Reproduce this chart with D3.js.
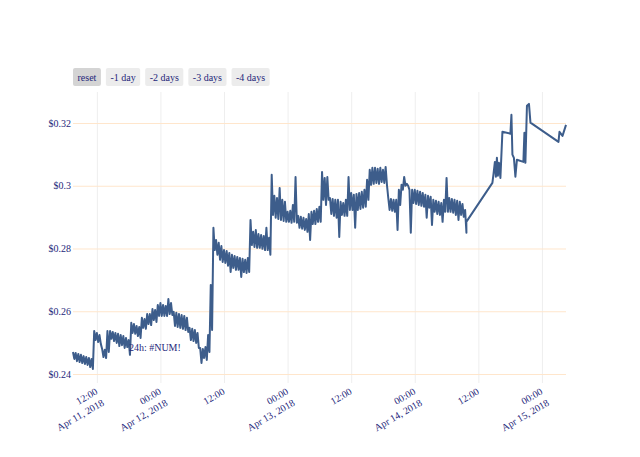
<!DOCTYPE html>
<html><head><meta charset="utf-8">
<script src="https://cdn.jsdelivr.net/npm/d3@7"></script>
<style>
body{margin:0;background:#fff}
svg{display:block}
text{font-family:"Liberation Serif","Times New Roman",serif}
</style>
</head><body>
<svg id="c" width="640" height="457"></svg>
<script>
// ---- data (hours counted from 2018-04-11 00:00 UTC) ----
// Dense, fast-oscillating part: for every half-hour slot the price swings
// between a high (read first) and a low (read a quarter hour later).
const denseStartHour = 7.5;
const denseStepHours = 0.5;
const bandHigh = [
.2470,.2467,.2464,.2461,.2457,.2454,.2451,.2448,.2537,.2531,
.2524,.2480,.2477,.2537,.2537,.2534,.2531,.2528,.2524,.2521,
.2515,.2508,.2563,.2559,.2553,.2550,.2579,.2575,.2591,.2591,
.2607,.2604,.2620,.2626,.2620,.2617,.2639,.2626,.2598,.2595,
.2591,.2588,.2585,.2579,.2547,.2544,.2540,.2531,.2483,.2480,
.2486,.2524,.2684,.2866,.2827,.2818,.2808,.2795,.2792,.2786,
.2780,.2776,.2773,.2770,.2767,.2764,.2770,.2891,.2853,.2859,
.2846,.2843,.2840,.2866,.2834,.3035,.2968,.2961,.2993,.2955,
.2949,.2917,.2920,.2939,.3028,.2904,.2901,.2898,.2894,.2910,
.2917,.2920,.2926,.2933,.3044,.3025,.3028,.2961,.2958,.2955,
.2955,.2949,.2945,.2955,.3028,.2977,.2971,.2974,.2977,.2981,
.2987,.3019,.3051,.3057,.3057,.3054,.3057,.3051,.3060,.2961,
.2958,.2955,.2955,.2987,.3003,.3028,.3006,.2987,.2987,.2987,
.2984,.2981,.2977,.2971,.2968,.2965,.2955,.2952,.2949,.2945,
.2955,.3025,.2961,.2958,.2955,.2952,.2949,.2942,.2923
];
const bandLow = [
.2448,.2441,.2438,.2435,.2432,.2429,.2422,.2416,.2508,.2502,
.2496,.2454,.2451,.2470,.2512,.2505,.2499,.2489,.2492,.2483,
.2486,.2461,.2531,.2528,.2521,.2515,.2547,.2544,.2559,.2556,
.2572,.2566,.2585,.2585,.2585,.2585,.2591,.2588,.2553,.2550,
.2547,.2544,.2540,.2534,.2508,.2505,.2499,.2483,.2435,.2451,
.2445,.2470,.2540,.2795,.2780,.2764,.2757,.2754,.2745,.2725,
.2738,.2732,.2732,.2709,.2725,.2722,.2725,.2811,.2805,.2802,
.2802,.2799,.2795,.2795,.2780,.2907,.2898,.2894,.2891,.2888,
.2885,.2885,.2882,.2885,.2882,.2866,.2863,.2859,.2853,.2827,
.2878,.2878,.2885,.2885,.2955,.2939,.2955,.2910,.2904,.2898,
.2837,.2907,.2904,.2904,.2923,.2923,.2866,.2923,.2926,.2930,
.2933,.2955,.3003,.3006,.3009,.3006,.3012,.3009,.3003,.2923,
.2920,.2917,.2859,.2939,.2987,.3000,.3000,.2850,.2945,.2942,
.2939,.2936,.2933,.2898,.2930,.2875,.2917,.2910,.2907,.2885,
.2917,.2917,.2917,.2914,.2907,.2891,.2907,.2901,.2850
];
// Sparse part after the data gap
const sparseHours = [81.73,86.65,86.84,87.12,87.31,87.50,87.69,87.88,88.16,88.54,90.05,90.24,90.43,90.71,90.99,91.28,92.50,92.69,92.88,93.17,93.55,93.83,99.12,99.31,99.88,100.54];
const sparsePrices = [.2885,.3009,.3035,.3076,.3029,.3089,.3032,.3073,.3025,.3172,.3166,.3226,.3099,.3089,.3029,.3083,.3076,.3169,.3073,.3255,.3261,.3201,.3140,.3172,.3159,.3194];

const xTickHours = [12,24,36,48,60,72,84,96];
const xTickTimes = ["12:00","00:00","12:00","00:00","12:00","00:00","12:00","00:00"];
const xTickDates = ["Apr 11, 2018","Apr 12, 2018","","Apr 13, 2018","","Apr 14, 2018","","Apr 15, 2018"];
const yTickValues = [0.24,0.26,0.28,0.30,0.32];
const yTickLabels = ["$0.24","$0.26","$0.28","$0.3","$0.32"];
const buttonLabels = ["reset","-1 day","-2 days","-3 days","-4 days"];
const annotationText = "24h: #NUM!";
const annotationHour = 18.05, annotationPrice = 0.2486;
const yDomain = [0.23713, 0.32988];

// ---- build ----
const base = Date.UTC(2018,3,11,0,0);
const toDate = h => new Date(base + h*3600000);
const series = [];
bandHigh.forEach((hi,i)=>{
  const h = denseStartHour + i*denseStepHours;
  series.push({t:toDate(h), v:hi});
  series.push({t:toDate(h + denseStepHours/2), v:bandLow[i]});
});
sparseHours.forEach((h,i)=>series.push({t:toDate(h), v:sparsePrices[i]}));

const L=73, R=566, T=92, B=383;
const x = d3.scaleUtc().domain([toDate(denseStartHour), d3.max(series,d=>d.t)]).range([L,R]);
const y = d3.scaleLinear().domain(yDomain).range([B,T]);

const svg = d3.select("#c");
const navy = "#25277a";

// vertical grid
const gx = svg.append("g").attr("transform",`translate(0,${B})`)
  .call(d3.axisBottom(x).tickValues(xTickHours.map(toDate)).tickSize(-(B-T)).tickFormat(""));
gx.select(".domain").remove();
gx.selectAll(".tick line").attr("stroke","#eeeeee").attr("stroke-width",1);

// horizontal grid + labels
const gy = svg.append("g").attr("transform",`translate(${L},0)`)
  .call(d3.axisLeft(y).tickValues(yTickValues).tickSize(-(R-L)).tickPadding(2)
    .tickFormat((d,i)=>yTickLabels[i]));
gy.select(".domain").remove();
gy.selectAll(".tick line").attr("stroke","#ffe6cc").attr("stroke-width",1);
gy.selectAll(".tick text").attr("fill",navy).attr("font-size",10)
  .style("font-family",'"Liberation Serif","Times New Roman",serif');

// x labels (rotated, two lines)
const xl = svg.append("g");
xTickHours.forEach((h,i)=>{
  const px = x(toDate(h));
  const g = xl.append("g").attr("transform",`translate(${px},${B+8}) rotate(-30)`);
  g.append("text").attr("text-anchor","end").attr("font-size",10).attr("fill",navy)
    .attr("x",0).attr("y",3).text(xTickTimes[i]);
  if (xTickDates[i]) g.append("text").attr("text-anchor","end").attr("font-size",10).attr("fill",navy)
    .attr("x",0).attr("y",16).text(xTickDates[i]);
});

// line
const line = d3.line().x(d=>x(d.t)).y(d=>y(d.v));
svg.append("path").datum(series).attr("d",line).attr("fill","none")
  .attr("stroke","#3d5d8b").attr("stroke-width",2).attr("stroke-linejoin","round");

// annotation
svg.append("text").attr("x",x(toDate(annotationHour))).attr("y",y(annotationPrice)+3.5)
  .attr("font-size",10).attr("fill",navy).text(annotationText);

// buttons
let bx = 73;
const bg = svg.append("g");
buttonLabels.forEach((lab,i)=>{
  const g = bg.append("g");
  const r = g.append("rect").attr("y",68).attr("height",18).attr("rx",2)
    .attr("fill", i===0 ? "#d4d4d4" : "#ececec");
  const t = g.append("text").attr("y",80.5).attr("font-size",10).attr("fill",navy).text(lab);
  const w = t.node().getComputedTextLength();
  r.attr("x",bx).attr("width",w+9);
  t.attr("x",bx+4.5);
  bx += w+9+5;
});
</script>
</body></html>
